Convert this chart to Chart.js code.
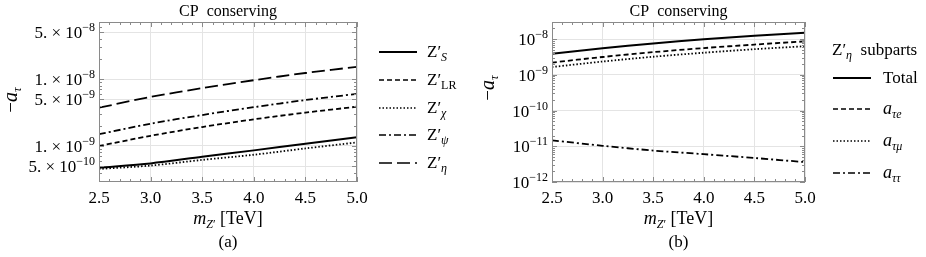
<!DOCTYPE html>
<html>
<head>
<meta charset="utf-8">
<script src="https://cdn.jsdelivr.net/npm/chart.js@4.4.1/dist/chart.umd.min.js"></script>
<style>
  body { margin: 0; background: #fff; width: 926px; height: 257px; overflow: hidden; position: relative; }
  canvas { position: absolute; top: 0; }
</style>
</head>
<body>
<canvas id="chartA" width="465" height="257" style="left:0"></canvas>
<canvas id="chartB" width="461" height="257" style="left:465px"></canvas>
<script>
// hmotnost Z' v TeV
const masses = [2.5, 3.0, 3.5, 4.0, 4.5, 5.0];

// panel (a): -a_tau pro jednotlive modely Z'
const zS   = [4.75e-10, 5.5e-10, 6.9e-10, 8.6e-10, 1.08e-9, 1.35e-9];
const zLR  = [1.0e-9, 1.42e-9, 1.92e-9, 2.5e-9, 3.15e-9, 3.86e-9];
const zChi = [4.54e-10, 5.1e-10, 6.2e-10, 7.4e-10, 9.2e-10, 1.13e-9];
const zPsi = [1.5e-9, 2.15e-9, 2.9e-9, 3.8e-9, 4.85e-9, 6.0e-9];
const zEta = [3.73e-9, 5.4e-9, 7.3e-9, 9.6e-9, 1.23e-8, 1.52e-8];

// panel (b): Z'_eta rozdeleny na prispevky
const total  = [3.85e-9, 5.5e-9, 7.5e-9, 9.8e-9, 1.23e-8, 1.5e-8];
const aTauE  = [2.2e-9, 3.15e-9, 4.3e-9, 5.6e-9, 7.0e-9, 8.6e-9];
const aTauMu = [1.65e-9, 2.35e-9, 3.2e-9, 4.15e-9, 5.2e-9, 6.3e-9];
const aTauTau = [1.47e-11, 1.03e-11, 7.6e-12, 6.0e-12, 4.7e-12, 3.6e-12];

// popisky os
const xTicks = [2.5, 3.0, 3.5, 4.0, 4.5, 5.0];
const yTicksA = [5e-10, 1e-9, 5e-9, 1e-8, 5e-8];
const yLabelsA = [['5. × 10', '−10'], ['1. × 10', '−9'], ['5. × 10', '−9'], ['1. × 10', '−8'], ['5. × 10', '−8']];
const yTicksB = [1e-12, 1e-11, 1e-10, 1e-9, 1e-8];
const yLabelsB = [['10', '−12'], ['10', '−11'], ['10', '−10'], ['10', '−9'], ['10', '−8']];

const serif = "'Liberation Serif', 'Times New Roman', serif";
const DASH = {
    solid: [],
    dashed: [5, 3],
    dotted: [1.5, 2],
    dashdot: [7, 3, 2, 3],
    longdash: [13, 5]
};

// vykresli text slozeny z kousku (indexy, kurziva)
function richWidth(ctx, segs) {
    let w = 0;
    segs.forEach(s => { ctx.font = s.f; w += ctx.measureText(s.t).width; });
    return w;
}
function drawRich(ctx, segs, x, y, align) {
    const w = richWidth(ctx, segs);
    let cx = align === 'right' ? x - w : align === 'center' ? x - w / 2 : x;
    ctx.textBaseline = 'alphabetic';
    ctx.textAlign = 'left';
    ctx.fillStyle = '#000';
    segs.forEach(s => {
        ctx.font = s.f;
        ctx.fillText(s.t, cx, y + (s.dy || 0));
        cx += ctx.measureText(s.t).width;
    });
}
const R = n => n + 'px ' + serif;
const I = n => 'italic ' + n + 'px ' + serif;

function xLabel() {
    return [{ t: 'm', f: I(18) }, { t: 'Z', f: I(12), dy: 4 }, { t: '′', f: R(12), dy: 4 }, { t: ' [TeV]', f: R(18) }];
}
function yTitle() {
    return [{ t: '−', f: R(19) }, { t: 'a', f: I(20) }, { t: 'τ', f: I(13), dy: 4 }];
}

function makeDeco(cfg) {
    return {
        id: 'deco',
        afterDraw(chart) {
            const ctx = chart.ctx;
            const a = chart.chartArea;
            const xs = chart.scales.x, ys = chart.scales.y;
            ctx.save();

            // ramecek
            ctx.strokeStyle = '#8a8a8a';
            ctx.lineWidth = 1;
            ctx.setLineDash([]);
            ctx.strokeRect(a.left + 0.5, a.top + 0.5, a.right - a.left - 1, a.bottom - a.top - 1);

            // drobne znacky dovnitr
            ctx.beginPath();
            for (let v = 2.5; v <= 5.001; v += 0.1) {
                const px = Math.round(xs.getPixelForValue(v)) + 0.5;
                const major = Math.abs(v * 2 - Math.round(v * 2)) < 1e-6;
                const l = major ? 5 : 3;
                ctx.moveTo(px, a.bottom); ctx.lineTo(px, a.bottom - l);
                ctx.moveTo(px, a.top); ctx.lineTo(px, a.top + l);
            }
            for (let e = -13; e <= -7; e++) {
                for (let m = 1; m < 10; m++) {
                    const v = m * Math.pow(10, e);
                    if (v < ys.min || v > ys.max) continue;
                    const py = Math.round(ys.getPixelForValue(v)) + 0.5;
                    const l = (m === 1 || (cfg.fiveMajor && m === 5)) ? 5 : 3;
                    ctx.moveTo(a.left, py); ctx.lineTo(a.left + l, py);
                    ctx.moveTo(a.right, py); ctx.lineTo(a.right - l, py);
                }
            }
            ctx.stroke();

            // popisky osy y s exponenty
            cfg.yTicks.forEach((v, i) => {
                const py = ys.getPixelForValue(v);
                const [base, exp] = cfg.yLabels[i];
                drawRich(ctx, [{ t: base, f: R(cfg.yFont) }, { t: exp, f: R(Math.round(cfg.yFont * 0.7)), dy: -7 }], a.left - 4, py + 6, 'right');
            });

            const cx = (a.left + a.right) / 2;
            // nadpis
            drawRich(ctx, [{ t: 'CP  conserving', f: R(16) }], cx, 16, 'center');
            // osa x
            drawRich(ctx, xLabel(), cx, 224, 'center');
            drawRich(ctx, [{ t: cfg.tag, f: R(17) }], cx, 247, 'center');
            // osa y
            ctx.save();
            ctx.translate(cfg.yTitleX, cfg.yTitleY);
            ctx.rotate(-Math.PI / 2);
            drawRich(ctx, yTitle(), 0, 0, 'center');
            ctx.restore();

            // legenda
            if (cfg.legendTitle) drawRich(ctx, cfg.legendTitle, cfg.legX - 1, cfg.legTitleY, 'left');
            cfg.legend.forEach(it => {
                ctx.strokeStyle = '#000';
                ctx.lineWidth = it.w;
                ctx.setLineDash(DASH[it.dash]);
                ctx.beginPath();
                ctx.moveTo(cfg.legX, it.y);
                ctx.lineTo(cfg.legX + 38, it.y);
                ctx.stroke();
                ctx.setLineDash([]);
                drawRich(ctx, it.label, cfg.legX + cfg.textGap, it.y + 5, 'left');
            });
            ctx.restore();
        }
    };
}

function series(vals, dash, w) {
    return {
        data: masses.map((m, i) => ({ x: m, y: vals[i] })),
        borderColor: '#000',
        borderWidth: w,
        borderDash: DASH[dash],
        pointRadius: 0,
        fill: false,
        tension: 0.3
    };
}

function makeChart(id, datasets, yMin, yMax, yTicks, yWidth, padRight, deco) {
    return new Chart(document.getElementById(id), {
        type: 'line',
        data: { datasets: datasets },
        options: {
            responsive: false,
            animation: false,
            layout: { padding: { left: 0, right: padRight, top: 22, bottom: 0 } },
            plugins: { legend: { display: false }, tooltip: { enabled: false } },
            scales: {
                x: {
                    type: 'linear',
                    min: 2.5,
                    max: 5.0,
                    afterBuildTicks: s => { s.ticks = xTicks.map(v => ({ value: v })); },
                    afterFit: s => { s.height = 75; },
                    grid: { color: '#e4e4e4', drawTicks: false },
                    border: { display: false },
                    ticks: {
                        font: { family: serif, size: 17 },
                        color: '#000',
                        padding: 6,
                        maxRotation: 0,
                        callback: v => v.toFixed(1)
                    }
                },
                y: {
                    type: 'logarithmic',
                    min: yMin,
                    max: yMax,
                    afterBuildTicks: s => { s.ticks = yTicks.map(v => ({ value: v })); },
                    afterFit: s => { s.width = yWidth; },
                    grid: { color: '#e4e4e4', drawTicks: false },
                    border: { display: false },
                    ticks: { display: false }
                }
            }
        },
        plugins: [deco]
    });
}

makeChart('chartA', [
    series(zS, 'solid', 2),
    series(zLR, 'dashed', 1.8),
    series(zChi, 'dotted', 1.8),
    series(zPsi, 'dashdot', 1.8),
    series(zEta, 'longdash', 1.8)
], 2.9e-10, 7.1e-8, yTicksA, 99, 108, makeDeco({
    yTicks: yTicksA, yLabels: yLabelsA, yFont: 17, fiveMajor: true,
    tag: '(a)', yTitleX: 17, yTitleY: 100,
    legX: 379, textGap: 48,
    legend: [
        { y: 52, dash: 'solid', w: 2, label: [{ t: 'Z′', f: R(17) }, { t: 'S', f: I(12), dy: 4 }] },
        { y: 80, dash: 'dashed', w: 1.6, label: [{ t: 'Z′', f: R(17) }, { t: 'LR', f: R(12), dy: 4 }] },
        { y: 108, dash: 'dotted', w: 1.6, label: [{ t: 'Z′', f: R(17) }, { t: 'χ', f: I(12), dy: 4 }] },
        { y: 135, dash: 'dashdot', w: 1.6, label: [{ t: 'Z′', f: R(17) }, { t: 'ψ', f: I(12), dy: 4 }] },
        { y: 163, dash: 'longdash', w: 1.6, label: [{ t: 'Z′', f: R(17) }, { t: 'η', f: I(12), dy: 4 }] }
    ]
}));

makeChart('chartB', [
    series(total, 'solid', 2),
    series(aTauE, 'dashed', 1.8),
    series(aTauMu, 'dotted', 1.8),
    series(aTauTau, 'dashdot', 1.8)
], 1e-12, 3e-8, yTicksB, 87, 121, makeDeco({
    yTicks: yTicksB, yLabels: yLabelsB, yFont: 17, fiveMajor: false,
    tag: '(b)', yTitleX: 29, yTitleY: 88,
    legX: 368, textGap: 50,
    legendTitle: [{ t: 'Z′', f: R(17) }, { t: 'η', f: I(12), dy: 4 }, { t: '  subparts', f: R(17) }],
    legTitleY: 55,
    legend: [
        { y: 78, dash: 'solid', w: 2, label: [{ t: 'Total', f: R(17) }] },
        { y: 109, dash: 'dashed', w: 1.6, label: [{ t: 'a', f: I(18) }, { t: 'τe', f: I(12), dy: 4 }] },
        { y: 141, dash: 'dotted', w: 1.6, label: [{ t: 'a', f: I(18) }, { t: 'τμ', f: I(12), dy: 4 }] },
        { y: 173, dash: 'dashdot', w: 1.6, label: [{ t: 'a', f: I(18) }, { t: 'ττ', f: I(12), dy: 4 }] }
    ]
}));
</script>
</body>
</html>
